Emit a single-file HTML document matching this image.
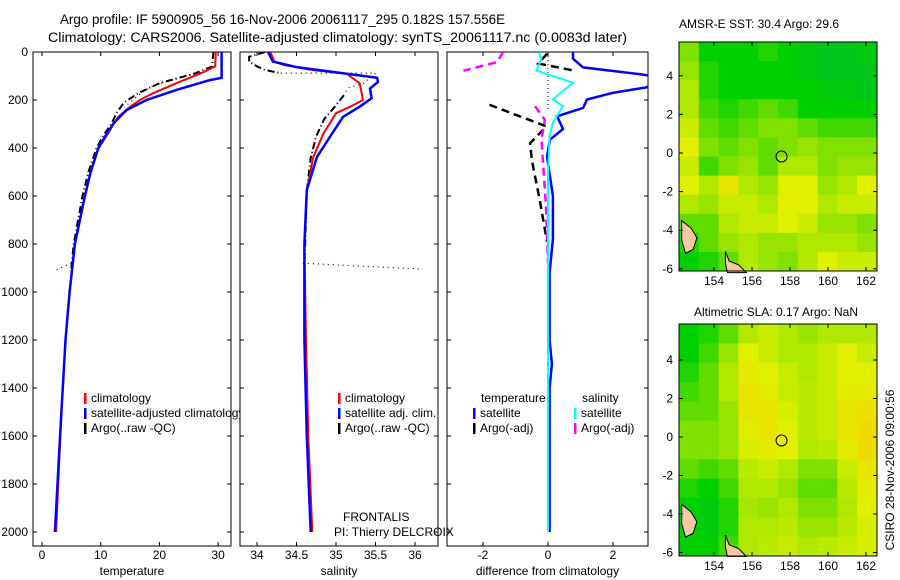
<!DOCTYPE html>
<html><head><meta charset="utf-8"><style>
body{margin:0;background:#fff;}
svg{display:block;font-family:"Liberation Sans",sans-serif;}
</style></head><body>
<svg id="fig" width="900" height="580" viewBox="0 0 900 580">
<text x="60" y="24" font-size="13.5" textLength="445" lengthAdjust="spacingAndGlyphs">Argo profile: IF 5900905_56 16-Nov-2006 20061117_295 0.182S 157.556E</text>
<text x="48" y="42" font-size="13.5" textLength="579" lengthAdjust="spacingAndGlyphs">Climatology: CARS2006. Satellite-adjusted climatology: synTS_20061117.nc (0.0083d later)</text>
<text x="759" y="28" text-anchor="middle" font-size="12">AMSR-E SST: 30.4  Argo: 29.6</text>
<text x="776" y="316" text-anchor="middle" font-size="12">Altimetric SLA: 0.17  Argo: NaN</text>
<text transform="translate(894,470) rotate(-90)" text-anchor="middle" font-size="12">CSIRO 28-Nov-2006 09:00:56</text>
</svg>
<script>
// ---- data ----
const tempClimDepth=[0,60,85,130,172,200,228,270,300,350,400,500,600,800,1000,1200,1500,2000];
const tempClim=[29.6,29.5,27.4,22.9,18.9,16.7,15,13,12.2,11,9.6,8.3,7.3,5.6,4.7,4,3.3,2.4];
const tempSatDepth=[0,108,117,158,200,242,297,350,400,500,600,800,1000,1200,1500,2000];
const tempSat=[30.6,30.6,28.6,22.9,17.8,14.4,12.2,10.8,9.6,8.3,7.3,5.6,4.7,4,3.3,2.2];
const tempArgoDepth=[0,60,90,130,170,210,250,300,350,400,500,600,800,900];
const tempArgo=[29.2,29,26,20,16.5,14,12.8,11.8,10.4,9.3,7.9,6.9,5.4,5];
const tempArgoRawDepth=[85,100,140,170,200,230];
const tempArgoRaw=[27,24,19,17,15.5,14];
const tempArgoRaw2Depth=[880,910];
const tempArgoRaw2=[5,2.2];

const salClimDepth=[0,40,55,75,90,130,200,228,255,340,440,580,800,1200,1600,2000];
const salClim=[34.17,34.22,34.35,34.7,35.13,35.3,35.34,35.18,35.0,34.84,34.71,34.63,34.6,34.62,34.65,34.7];
const salSatDepth=[0,40,63,107,125,152,193,228,270,355,437,575,800,1200,1600,2000];
const salSat=[34.14,34.2,34.5,35.52,35.53,35.43,35.45,35.3,35.09,34.92,34.76,34.63,34.6,34.6,34.63,34.68];
const salArgoDepth=[0,20,40,60,75,88];
const salArgo=[34.1,33.9,33.9,34.0,34.1,34.3];
const salArgoDotDepth=[88,88,130,150,180];
const salArgoDot=[34.3,35.5,35.35,35.15,35.1];
const salArgo2Depth=[180,230,280,350,440,580,800,880];
const salArgo2=[35.1,34.98,34.85,34.75,34.68,34.63,34.61,34.6];
const salArgoDot2Depth=[880,905];
const salArgoDot2=[34.58,36.1];

const dTSatDepth=[0,28,64,92,100,140,148,170,198,233,268,321,365,435,600,780,920,1200,1300,1400,2000];
const dTSat=[0.77,0.77,1.08,2.8,3.2,3.2,3,2.0,1.2,1.08,0.28,0.46,0.06,-0.03,0.15,0.15,0.05,0.05,0.12,0.05,0.05];
const dSSatDepth=[0,28,78,128,198,226,295,350,500,2000];
const dSSat=[-0.3,-0.2,-0.35,0.77,0.15,0.46,0.15,0.05,0,0];
const dTArgoDepth=[7,48,76];
const dTArgo=[-0.03,-0.3,0.74];
const dTArgo2Depth=[220,310,380,450,620,790];
const dTArgo2=[-1.8,-0.05,-0.55,-0.5,-0.25,-0.03];
const dSArgoDepth=[0,42,78];
const dSArgo=[-1.38,-1.57,-2.6];
const dSArgo2Depth=[226,282,365,645,880];
const dSArgo2=[-0.4,-0.1,-0.2,-0.06,0];

const depthTicks=[0,200,400,600,800,1000,1200,1400,1600,1800,2000];
const tempTicks=[0,10,20,30];
const salTicks=[34,34.5,35,35.5,36];
const diffTicks=[-2,0,2];
const lonTicks=[154,156,158,160,162];
const latTicks=[4,2,0,-2,-4,-6];

const sstGrid=[
[.5,.3,.3,.3,.35,.3,.25,.2,.2,.25],
[.55,.35,.3,.3,.3,.3,.25,.2,.2,.2],
[.6,.35,.3,.3,.3,.3,.3,.25,.25,.2],
[.6,.4,.35,.4,.45,.4,.3,.3,.3,.3],
[.65,.45,.4,.45,.5,.5,.45,.4,.4,.4],
[.7,.5,.45,.5,.45,.5,.55,.5,.5,.5],
[.65,.4,.5,.55,.45,.6,.6,.5,.55,.55],
[.7,.6,.75,.6,.55,.7,.7,.55,.6,.7],
[.6,.55,.65,.65,.6,.7,.7,.6,.65,.65],
[.45,.45,.6,.65,.65,.7,.65,.55,.55,.5],
[.35,.45,.55,.6,.55,.55,.6,.6,.6,.55],
[.3,.35,.45,.6,.55,.5,.6,.7,.65,.65]];
const slaGrid=[
[.3,.35,.45,.6,.65,.6,.55,.6,.6,.6],
[.3,.4,.55,.7,.65,.6,.6,.65,.7,.65],
[.35,.45,.6,.72,.7,.65,.6,.65,.7,.7],
[.4,.45,.6,.75,.72,.65,.62,.65,.72,.72],
[.45,.45,.55,.75,.75,.68,.62,.65,.75,.78],
[.5,.5,.55,.72,.75,.7,.62,.65,.75,.8],
[.5,.5,.55,.68,.72,.7,.6,.62,.72,.8],
[.45,.4,.45,.62,.65,.6,.5,.5,.65,.75],
[.35,.3,.4,.6,.6,.55,.45,.45,.62,.72],
[.3,.25,.35,.58,.55,.6,.5,.5,.6,.7],
[.3,.25,.35,.6,.6,.62,.55,.55,.62,.68],
[.3,.3,.4,.6,.62,.65,.6,.62,.65,.68]];

// ---- drawing ----
const svg=document.getElementById('fig');
const NS='http://www.w3.org/2000/svg';
function mk(tag,attrs,parent){const e=document.createElementNS(NS,tag);for(const k in attrs)e.setAttribute(k,attrs[k]);(parent||svg).appendChild(e);return e;}
const top0=52, pxPerM=0.24, bot=546;
const yD=d=>top0+d*pxPerM;
const panels=[
 {x0:33,x1:231,sx:v=>42+v*5.87,ticks:tempTicks,label:'temperature',name:'temperature'},
 {x0:240,x1:438,sx:v=>257+(v-34)*79,ticks:salTicks,label:'salinity',name:'salinity'},
 {x0:447,x1:648,sx:v=>548+v*32.5,ticks:diffTicks,label:'difference from climatology',name:'difference'}];
panels.forEach((p,i)=>{
  const cp=mk('clipPath',{id:'clip'+i});
  mk('rect',{x:p.x0,y:top0,width:p.x1-p.x0,height:bot-top0},cp);
  const fr=mk('rect',{x:p.x0,y:top0,width:p.x1-p.x0,height:bot-top0,fill:'none',stroke:'#000','stroke-width':1});
  
  
  depthTicks.forEach(d=>{
    mk('line',{x1:p.x0,x2:p.x0+4,y1:yD(d),y2:yD(d),stroke:'#000'});
    mk('line',{x1:p.x1,x2:p.x1-4,y1:yD(d),y2:yD(d),stroke:'#000'});
    if(i===0){const t=mk('text',{x:28,y:yD(d)+4,'text-anchor':'end','font-size':12});t.textContent=d;
      
      }
  });
  p.ticks.forEach(v=>{
    const x=p.sx(v);
    mk('line',{x1:x,x2:x,y1:bot,y2:bot-4,stroke:'#000'});
    mk('line',{x1:x,x2:x,y1:top0,y2:top0+4,stroke:'#000'});
    const t=mk('text',{x:x,y:559,'text-anchor':'middle','font-size':12});t.textContent=v;
    
    
  });
  const xl=mk('text',{x:(p.x0+p.x1)/2,y:575,'text-anchor':'middle','font-size':12});xl.textContent=p.label;
  
  
});
function line(pi,depths,vals,color,w,dash,name){
  const p=panels[pi];
  const pts=depths.map((d,k)=>p.sx(vals[k]).toFixed(1)+','+yD(d).toFixed(1)).join(' ');
  const e=mk('polyline',{points:pts,fill:'none',stroke:color,'stroke-width':w,'clip-path':'url(#clip'+pi+')'});
  if(dash)e.setAttribute('stroke-dasharray',dash);
  
  
}
mk('line',{x1:548,x2:548,y1:top0,y2:yD(240),stroke:'#000','stroke-dasharray':'1,3'});
line(0,tempArgoRawDepth,tempArgoRaw,'#000',1.2,'1,4','temp-argo-raw-dotted');
line(0,tempArgoRaw2Depth,tempArgoRaw2,'#000',1.2,'1,4','temp-argo-raw-deep-dotted');
line(0,tempArgoDepth,tempArgo,'#000',2,'7,3,1,3','temp-argo-line');
line(0,tempClimDepth,tempClim,'#f00',2,null,'temp-climatology-line');
line(0,tempSatDepth,tempSat,'#00f',2.5,null,'temp-satellite-line');
line(1,salArgoDotDepth,salArgoDot,'#000',1.2,'1,4','sal-argo-raw-dotted');
line(1,salArgoDot2Depth,salArgoDot2,'#000',1.2,'1,4','sal-argo-raw-deep-dotted');
line(1,salArgoDepth,salArgo,'#000',2,'7,3,1,3','sal-argo-top-line');
line(1,salArgo2Depth,salArgo2,'#000',2,'7,3,1,3','sal-argo-line');
line(1,salClimDepth,salClim,'#f00',2,null,'sal-climatology-line');
line(1,salSatDepth,salSat,'#00f',2.5,null,'sal-satellite-line');
line(2,dTArgoDepth,dTArgo,'#000',2.5,'8,5','temp-argo-diff-top');
line(2,dTArgo2Depth,dTArgo2,'#000',2.5,'8,5','temp-argo-diff');
line(2,dSArgoDepth,dSArgo,'#f0f',2.5,'8,5','sal-argo-diff-top');
line(2,dSArgo2Depth,dSArgo2,'#f0f',2.5,'8,5','sal-argo-diff');
line(2,dTSatDepth,dTSat,'#00f',2.5,null,'temp-satellite-diff');
line(2,dSSatDepth,dSSat,'#0ff',2,null,'sal-satellite-diff');

// legends
const legClip=mk('clipPath',{id:'legclip'});
mk('rect',{x:33,y:380,width:207,height:60},legClip);
function leg(x,y,color,txt,name,clip){
  if(color){const b=mk('rect',{x:x,y:y-9,width:2.5,height:11,fill:color});
    
    }
  const t=mk('text',{x:x+7,y:y,'font-size':12});t.textContent=txt;
  if(clip)t.setAttribute('clip-path','url(#legclip)');
  
  
}
leg(84,402,'#f00','climatology','legend-climatology');
leg(84,417,'#00f','satellite-adjusted climatology','legend-satellite-adjusted',true);
leg(84,432,'#000','Argo(..raw -QC)','legend-argo');
leg(338,402,'#f00','climatology','legend-sal-climatology');
leg(338,417,'#00f','satellite adj. clim.','legend-sal-satellite');
leg(338,432,'#000','Argo(..raw -QC)','legend-sal-argo');
leg(474,402,null,'temperature','legend-diff-temperature-header');
leg(473,417,'#00f','satellite','legend-diff-temp-satellite');
leg(473,432,'#000','Argo(-adj)','legend-diff-temp-argo');
leg(575,402,null,'salinity','legend-diff-salinity-header');
leg(574,417,'#0ff','satellite','legend-diff-sal-satellite');
leg(574,432,'#f0f','Argo(-adj)','legend-diff-sal-argo');
leg(336,521,null,'FRONTALIS','platform-label');
leg(327,536,null,'PI: Thierry DELCROIX','pi-label');

// maps
function cmap(v){
  const st=[[0,[0,176,80]],[.3,[0,208,0]],[.5,[128,224,0]],[.7,[224,240,0]],[.85,[248,208,0]],[1,[240,160,0]]];
  for(let i=1;i<st.length;i++){if(v<=st[i][0]){const a=st[i-1],b=st[i],t=(v-a[0])/(b[0]-a[0]);
    return 'rgb('+a[1].map((c,k)=>Math.round(c+(b[1][k]-c)*t)).join(',')+')';}}
  return 'rgb(240,160,0)';
}
function map(grid,y0,y1,lat0y,pxLat,name){
  const x0=679,x1=877;
  const lonX=l=>714+(l-154)*19, latY=l=>lat0y-l*pxLat;
  const rows=grid.length, cols=grid[0].length, cw=(x1-x0)/cols, ch=(y1-y0)/rows;
  grid.forEach((r,i)=>r.forEach((v,j)=>{
    const c=mk('rect',{x:x0+j*cw,y:y0+i*ch,width:cw+0.5,height:ch+0.5,fill:cmap(v)});
    
    
  }));
  const l1=mk('polygon',{points:[[152.3,-3.5],[152.8,-3.9],[153.1,-4.4],[152.9,-5],[152.5,-5.2],[152.3,-4.5]].map(p=>lonX(p[0])+','+latY(p[1])).join(' '),fill:'#f8c8a0',stroke:'#000','stroke-width':1});
   
  const l2=mk('polygon',{points:[[154.6,-5.1],[154.8,-5.6],[155.3,-5.8],[155.7,-6.2],[154.7,-6.2],[154.6,-5.7]].map(p=>lonX(p[0])+','+latY(p[1])).join(' '),fill:'#f8c8a0',stroke:'#000','stroke-width':1});
   
  const fr=mk('rect',{x:x0,y:y0,width:x1-x0,height:y1-y0,fill:'none',stroke:'#000'});
   
  lonTicks.forEach(l=>{const x=lonX(l);
    mk('line',{x1:x,x2:x,y1:y1,y2:y1-4,stroke:'#000'});mk('line',{x1:x,x2:x,y1:y0,y2:y0+4,stroke:'#000'});
    const t=mk('text',{x:x,y:y1+14,'text-anchor':'middle','font-size':12});t.textContent=l;
     });
  latTicks.forEach(l=>{const y=latY(l);
    mk('line',{x1:x0,x2:x0+4,y1:y,y2:y,stroke:'#000'});mk('line',{x1:x1,x2:x1-4,y1:y,y2:y,stroke:'#000'});
    const t=mk('text',{x:673,y:y+4,'text-anchor':'end','font-size':12});t.textContent=l;
     });
  const c=mk('circle',{cx:lonX(157.556),cy:latY(-0.182),r:5.5,fill:'none',stroke:'#000'});
   
}
map(sstGrid,42,271,153,19.3,'sst-map');
map(slaGrid,324,556,437,19.25,'sla-map');
</script>
</body></html>
